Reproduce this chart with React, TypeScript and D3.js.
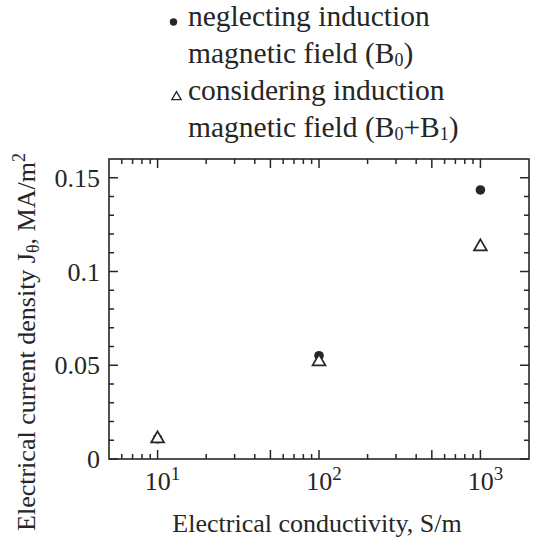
import React from "react";
import * as d3 from "d3";

// ---- data ----
const conductivity = [10, 100, 1000]; // S/m
const neglecting = [0.0108, 0.0551, 0.1435]; // B0 only, MA/m^2
const considering = [0.0108, 0.0519, 0.1132]; // B0+B1, MA/m^2

const xMajorTicks = [10, 100, 1000];
const xMajorLabels = ["1", "2", "3"]; // exponents of 10
const xLongMinor = [50, 500];
const xMinorTicks = [6, 7, 8, 9, 20, 30, 40, 60, 70, 80, 90, 200, 300, 400, 600, 700, 800, 900];
const yMajorTicks = [0, 0.05, 0.1, 0.15];
const yMajorLabels = ["0", "0.05", "0.1", "0.15"];
const yMinorTicks = [0.01, 0.02, 0.03, 0.04, 0.06, 0.07, 0.08, 0.09, 0.11, 0.12, 0.13, 0.14];

const W = 533;
const H = 544;
const M = { left: 109, right: 529, top: 159, bottom: 459 };
const FONT = '"Liberation Serif", "Times New Roman", "DejaVu Serif", serif';
const INK = "#262626";

export default function App() {
  const x = d3.scaleLog().domain([5, 2000]).range([M.left, M.right]);
  const y = d3.scaleLinear().domain([0, 0.16]).range([M.bottom, M.top]);

  const triPath = (s: number) => d3.symbol().type(d3.symbolTriangle).size(s)();
  const bigTri = triPath(72);
  const smallTri = triPath(38);

  const majorLen = 9;
  const minorLen = 5;

  const xTicks: { v: number; len: number }[] = [
    ...xMajorTicks.map((v) => ({ v, len: majorLen })),
    ...xLongMinor.map((v) => ({ v, len: majorLen })),
    ...xMinorTicks.map((v) => ({ v, len: minorLen })),
  ];
  const yTicks: { v: number; len: number }[] = [
    ...yMajorTicks.map((v) => ({ v, len: majorLen })),
    ...yMinorTicks.map((v) => ({ v, len: minorLen })),
  ];

  const txt = { fontFamily: FONT, fill: INK } as React.CSSProperties;
  const sub = { fontSize: 18 } as React.CSSProperties;

  return (
    <svg
      width={W}
      height={H}
      style={{ position: "absolute", left: 0, top: 0, background: "#fff" }}
    >
      {/* Legend */}
      <g style={{ ...txt, fontSize: 29.5 }}>
        <circle cx={173.5} cy={22} r={3.7} fill={INK} />
        <text x={188} y={26}>neglecting induction</text>
        <text x={188} y={63}>
          magnetic field (B<tspan style={sub} dy={3}>0</tspan>
          <tspan dy={-3}>)</tspan>
        </text>
        <path
          d={smallTri ?? ""}
          transform="translate(176.5,97)"
          fill="#fff"
          stroke={INK}
          strokeWidth={1.3}
        />
        <text x={188} y={100}>considering induction</text>
        <text x={188} y={137}>
          magnetic field (B<tspan style={sub} dy={3}>0</tspan>
          <tspan dy={-3}>+B</tspan>
          <tspan style={sub} dy={3}>1</tspan>
          <tspan dy={-3}>)</tspan>
        </text>
      </g>

      {/* Frame */}
      <rect
        x={M.left}
        y={M.top}
        width={M.right - M.left}
        height={M.bottom - M.top}
        fill="none"
        stroke={INK}
        strokeWidth={1.6}
      />

      {/* Ticks on all four sides, pointing inward */}
      <g stroke={INK} strokeWidth={1.5}>
        {xTicks.map((t, i) => (
          <g key={"xt" + i}>
            <line x1={x(t.v)} x2={x(t.v)} y1={M.bottom} y2={M.bottom - t.len} />
            <line x1={x(t.v)} x2={x(t.v)} y1={M.top} y2={M.top + t.len} />
          </g>
        ))}
        {yTicks.map((t, i) => (
          <g key={"yt" + i}>
            <line x1={M.left} x2={M.left + t.len} y1={y(t.v)} y2={y(t.v)} />
            <line x1={M.right} x2={M.right - t.len} y1={y(t.v)} y2={y(t.v)} />
          </g>
        ))}
      </g>

      {/* Tick labels */}
      <g style={{ ...txt, fontSize: 26 }}>
        {yMajorTicks.map((v, i) => (
          <text key={"yl" + i} x={100} y={y(v) + 9} textAnchor="end">
            {yMajorLabels[i]}
          </text>
        ))}
        {xMajorTicks.map((v, i) => (
          <text key={"xl" + i} x={x(v) + 5} y={490} textAnchor="middle">
            10<tspan style={{ fontSize: 19 }} dy={-10}>{xMajorLabels[i]}</tspan>
          </text>
        ))}
      </g>

      {/* Axis titles */}
      <text x={317} y={532} style={{ ...txt, fontSize: 26 }} textAnchor="middle">
        Electrical conductivity, S/m
      </text>
      <text
        transform="translate(35,342) rotate(-90)"
        style={{ ...txt, fontSize: 26 }}
        textAnchor="middle"
      >
        Electrical current density J<tspan style={{ fontSize: 18 }} dy={4}>θ</tspan>
        <tspan dy={-4}>, MA/m</tspan>
        <tspan style={{ fontSize: 18 }} dy={-10}>2</tspan>
      </text>

      {/* Data: circles first, then hollow triangles over them */}
      <g>
        {conductivity.map((c, i) => (
          <circle key={"c" + i} cx={x(c)} cy={y(neglecting[i])} r={4.8} fill={INK} />
        ))}
        {conductivity.map((c, i) => (
          <path
            key={"t" + i}
            d={bigTri ?? ""}
            transform={`translate(${x(c)},${y(considering[i])})`}
            fill="#fff"
            stroke={INK}
            strokeWidth={1.7}
          />
        ))}
      </g>
    </svg>
  );
}
